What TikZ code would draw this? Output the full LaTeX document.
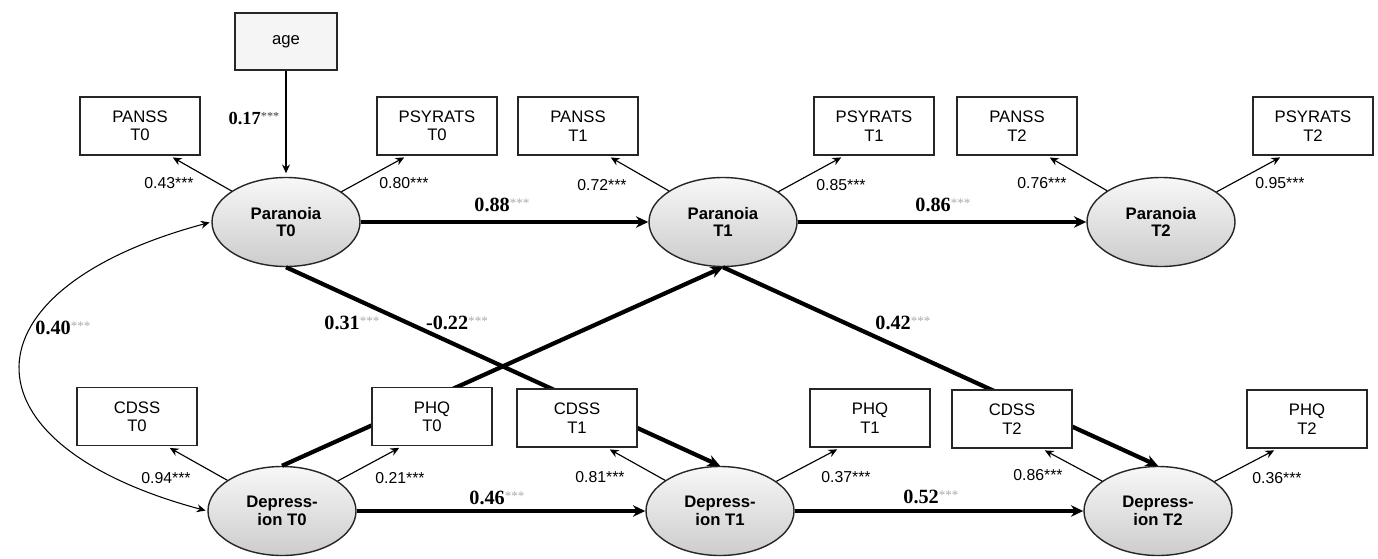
\documentclass[tikz,border=0pt]{standalone}
\usepackage{fontspec}
\setmainfont{Liberation Sans}
\newfontfamily\timesfont{Liberation Serif}
\usetikzlibrary{arrows.meta,shapes.geometric}

\newcommand{\pathcoef}[1]{{\timesfont\bfseries #1}{\color{gray!65}\raisebox{0.35ex}{\timesfont\fontsize{7.5}{8}\selectfont ***}}}

\begin{document}
\begin{tikzpicture}[x=0.2cm,y=0.2cm,
    obs/.style={draw=black!85,line width=0.8pt,fill=white,minimum width=2.4cm,minimum height=1.16cm,inner sep=0pt,align=center,font=\fontsize{9.5}{10.5}\selectfont},
    lat/.style={ellipse,draw=black!85,line width=0.8pt,top color=gray!6,bottom color=gray!40,minimum width=2.96cm,minimum height=1.78cm,inner sep=0pt,align=center,font=\bfseries\fontsize{9.5}{10}\selectfont},
    load/.style={-{Stealth[length=5pt,width=4.5pt]},line width=0.65pt,shorten >=2pt},
    reg/.style={-{Stealth[length=7pt,width=6.5pt]},line width=2.4pt},
    lbl/.style={inner sep=0pt,font=\fontsize{9}{10}\selectfont},
    coef/.style={inner sep=0pt,font=\fontsize{11.5}{13}\selectfont}]
    \useasboundingbox (0,0) rectangle (137.8,-55.9);
    \node [lat] (P0) at (28.6,-22.2) {Paranoia\\T0};
    \node [lat] (P1) at (72.3,-22.2) {Paranoia\\T1};
    \node [lat] (P2) at (116.1,-22.2) {Paranoia\\T2};
    \node [lat] (D0) at (28.2,-51.1) {Depress-\\ion T0};
    \node [lat] (D1) at (72.0,-51.1) {Depress-\\ion T1};
    \node [lat] (D2) at (115.8,-51.1) {Depress-\\ion T2};
    \draw [reg] (P0.south) -- (D1.north);
    \draw [reg] (D0.north) -- (P1.south);
    \draw [reg] (P1.south) -- (D2.north);
    \draw [reg] (P0) -- (P1);
    \draw [reg] (P1) -- (P2);
    \draw [reg] (D0) -- (D1);
    \draw [reg] (D1) -- (D2);
    \node [obs,fill=gray!8,minimum width=2.04cm,minimum height=1.14cm] (age) at (28.6,-4.15) {age};
    \node [obs] (pa0) at (14.0,-12.6) {PANSS\\T0};
    \node [obs] (ps0) at (43.7,-12.6) {PSYRATS\\T0};
    \node [obs] (pa1) at (57.8,-12.6) {PANSS\\T1};
    \node [obs] (ps1) at (87.4,-12.6) {PSYRATS\\T1};
    \node [obs] (pa2) at (101.7,-12.6) {PANSS\\T2};
    \node [obs] (ps2) at (131.3,-12.6) {PSYRATS\\T2};
    \node [obs] (cd0) at (13.7,-41.65) {CDSS\\T0};
    \node [obs] (ph0) at (43.2,-41.65) {PHQ\\T0};
    \node [obs] (cd1) at (57.7,-41.8) {CDSS\\T1};
    \node [obs] (ph1) at (87.0,-41.8) {PHQ\\T1};
    \node [obs] (cd2) at (101.2,-41.9) {CDSS\\T2};
    \node [obs] (ph2) at (130.7,-41.9) {PHQ\\T2};
    \draw [load] (age) -- (P0);
    \draw [load] (P0) -- (pa0.-45);
    \draw [load] (P0) -- (ps0.-135);
    \draw [load] (P1) -- (pa1.-45);
    \draw [load] (P1) -- (ps1.-135);
    \draw [load] (P2) -- (pa2.-45);
    \draw [load] (P2) -- (ps2.-135);
    \draw [load] (D0) -- (cd0.-45);
    \draw [load] (D0) -- (ph0.-135);
    \draw [load] (D1) -- (cd1.-45);
    \draw [load] (D1) -- (ph1.-135);
    \draw [load] (D2) -- (cd2.-45);
    \draw [load] (D2) -- (ph2.-135);
    \draw [{Stealth[length=5pt,width=4.5pt]}-{Stealth[length=5pt,width=4.5pt]},line width=0.6pt,shorten <=1pt,shorten >=1pt] (P0.west) to [out=195,in=165,looseness=2.3] (D0.west);
    \node [coef,font=\fontsize{10.5}{12}\selectfont] (lage) at (25.4,-11.8) {{\timesfont\bfseries 0.17}{\color{black!75}\raisebox{0.35ex}{\timesfont\fontsize{7}{8}\selectfont ***}}};
    \node [lbl] (l1) at (16.9,-18.3) {0.43***};
    \node [lbl] (l2) at (40.4,-18.3) {0.80***};
    \node [lbl] (l3) at (60.2,-18.5) {0.72***};
    \node [lbl] (l4) at (84.1,-18.5) {0.85***};
    \node [lbl] (l5) at (104.2,-18.3) {0.76***};
    \node [lbl] (l6) at (128.0,-18.3) {0.95***};
    \node [lbl] (l7) at (16.6,-47.8) {0.94***};
    \node [lbl] (l8) at (40.0,-47.8) {0.21***};
    \node [lbl] (l9) at (60.0,-47.7) {0.81***};
    \node [lbl] (l10) at (84.6,-47.7) {0.37***};
    \node [lbl] (l11) at (103.8,-47.5) {0.86***};
    \node [lbl] (l12) at (127.7,-47.8) {0.36***};
    \node [coef] (c1) at (50.2,-20.5) {\pathcoef{0.88}};
    \node [coef] (c2) at (94.3,-20.5) {\pathcoef{0.86}};
    \node [coef] (c3) at (6.3,-32.8) {\pathcoef{0.40}};
    \node [coef] (c4) at (35.2,-32.3) {\pathcoef{0.31}};
    \node [coef] (c5) at (45.7,-32.3) {\pathcoef{-0.22}};
    \node [coef] (c6) at (90.3,-32.3) {\pathcoef{0.42}};
    \node [coef] (c7) at (49.7,-49.8) {\pathcoef{0.46}};
    \node [coef] (c8) at (93.1,-49.7) {\pathcoef{0.52}};
\end{tikzpicture}
\end{document}
